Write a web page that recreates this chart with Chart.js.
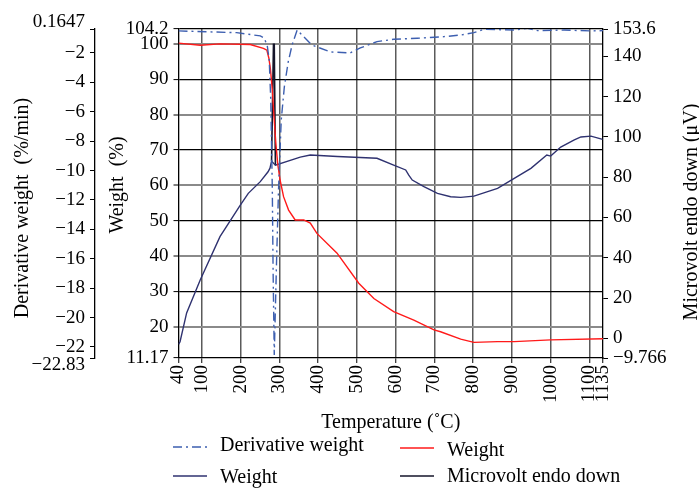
<!DOCTYPE html>
<html>
<head>
<meta charset="utf-8">
<script src="https://cdn.jsdelivr.net/npm/chart.js@4.4.1/dist/chart.umd.min.js"></script>
<style>
  html, body { margin: 0; padding: 0; background: #fff; }
</style>
</head>
<body>
<canvas id="chart" width="699" height="489"></canvas>
<script>
// TGA / DTA curves

const xTicks = [40, 100, 200, 300, 400, 500, 600, 700, 800, 900, 1000, 1100, 1135];
const weightTicks = [11.17, 20, 30, 40, 50, 60, 70, 80, 90, 100, 104.2];
const derivTicks = [-0.37, -2, -4, -6, -8, -10, -12, -14, -16, -18, -20, -22, -22.75];
const derivEndLabels = ['0.1647', '\u221222.83'];
const microvoltTicks = [-9.766, 0, 20, 40, 60, 80, 100, 120, 140, 153.6];

// Derivative weight (%/min)
const derivTemp = [40, 190, 251, 261, 269, 274, 278, 282, 284, 287, 293, 298, 305, 313, 323, 333, 346,
  384, 432, 483, 509, 552, 595, 656, 725, 768, 802, 828, 906, 940, 966, 1035, 1104, 1135];
const derivValue = [-0.5, -0.62, -0.84, -0.98, -1.52, -2.47, -5.2, -11.3, -16.8, -22.55, -16.1, -11.3, -6.56, -4.31, -2.61, -1.46, -0.44,
  -1.46, -1.93, -2.0, -1.66, -1.23, -1.07, -1.0, -0.89, -0.78, -0.62, -0.39, -0.44, -0.32, -0.48, -0.44, -0.5, -0.48];

// Weight (%) - red
const weightTemp = [40, 96, 147, 225, 259, 268, 273, 277, 282, 286, 291, 296, 302, 311, 324, 341, 363, 380, 397,
  449, 505, 544, 595, 647, 699, 716, 768, 802, 863, 906, 1000, 1135];
const weightValue = [100.2, 99.6, 100, 99.8, 98.7, 98.2, 96, 93, 87, 80, 72, 66, 61.5, 56.8, 53, 50.2, 50.2, 49.3, 46.4,
  40.8, 32.3, 28, 24.3, 21.9, 19.1, 18.6, 16.5, 15.6, 15.8, 15.8, 16.3, 16.6];

// DTA curve (µV) - navy
const dtaTemp = [40, 44, 61, 96, 147, 199, 220, 251, 271, 276, 280, 290, 354, 380, 450, 552, 595, 626, 634, 643,
  673, 708, 742, 768, 802, 863, 906, 949, 990, 1000, 1026, 1061, 1078, 1104, 1134];
const dtaValue = [-3, -1.7, 12.6, 29, 50.5, 66, 72, 77.8, 82.7, 84.5, 88, 86, 90, 91, 90.3, 89.4, 86, 83.6, 81, 78.6,
  75.3, 72, 70.3, 70, 70.6, 74.5, 79.4, 84.4, 91, 90.5, 95, 98.5, 100, 100.4, 98.8];

// endothermic spike - black
const spikeTemp = [280, 285, 287, 290];
const spikeValue = [88, 146, 146, 86];

const FONT = '"Liberation Serif", "Times New Roman", serif';

function pairs(xs, ys) {
  return xs.map((x, i) => ({ x: x, y: ys[i] }));
}
function setTicks(values) {
  return function (scale) {
    scale.ticks = values.map(v => ({ value: v }));
  };
}
function minus(v) {
  return String(v).replace('-', '\u2212');
}

const extras = {
  id: 'extras',
  afterDraw(chart) {
    const ctx = chart.ctx;
    const area = chart.chartArea;
    ctx.save();
    ctx.fillStyle = '#000';

    // end labels of the derivative axis sit just outside its ends
    ctx.font = '19px ' + FONT;
    ctx.textAlign = 'right';
    ctx.textBaseline = 'middle';
    const dx = chart.scales.yD.right - 10;
    ctx.fillText(derivEndLabels[0], dx, area.top - 7);
    ctx.fillText(derivEndLabels[1], dx, area.bottom + 7);

    // vertical axis titles, all reading bottom to top
    ctx.font = '20px ' + FONT;
    ctx.textAlign = 'center';
    const titles = [
      ['Derivative weight  (%/min)', 23, 208],
      ['Weight  (%)', 118, 185],
      ['Microvolt endo down (\u03bcV)', 692, 212]
    ];
    titles.forEach(t => {
      ctx.save();
      ctx.translate(t[1], t[2]);
      ctx.rotate(-Math.PI / 2);
      ctx.fillText(t[0], 0, 0);
      ctx.restore();
    });

    // legend, two columns
    const spots = [[173, 446, 447], [400, 451, 448], [173, 478, 476], [400, 477, 476]];
    ctx.textAlign = 'left';
    chart.data.datasets.forEach((ds, i) => {
      const p = spots[i];
      ctx.save();
      ctx.strokeStyle = ds.borderColor;
      ctx.lineWidth = ds.borderWidth;
      ctx.setLineDash(ds.borderDash || []);
      ctx.beginPath();
      ctx.moveTo(p[0], p[2]);
      ctx.lineTo(p[0] + 34, p[2]);
      ctx.stroke();
      ctx.restore();
      ctx.fillText(ds.label, p[0] + 47, p[1]);
    });
    ctx.restore();
  }
};

const tickFont = { family: FONT, size: 19 };

new Chart(document.getElementById('chart').getContext('2d'), {
  type: 'line',
  data: {
    datasets: [
      {
        label: 'Derivative weight',
        data: pairs(derivTemp, derivValue),
        yAxisID: 'yD',
        borderColor: '#3d5fb0',
        borderWidth: 1.4,
        borderDash: [9, 4, 2, 4]
      },
      {
        label: 'Weight',
        data: pairs(weightTemp, weightValue),
        yAxisID: 'yW',
        borderColor: '#ff1a1a',
        borderWidth: 1.4
      },
      {
        label: 'Weight',
        data: pairs(dtaTemp, dtaValue),
        yAxisID: 'yU',
        borderColor: '#2f3270',
        borderWidth: 1.4
      },
      {
        label: 'Microvolt endo down',
        data: pairs(spikeTemp, spikeValue),
        yAxisID: 'yU',
        borderColor: '#15152a',
        borderWidth: 1.6
      }
    ]
  },
  options: {
    responsive: false,
    animation: false,
    devicePixelRatio: 1,
    layout: { padding: { top: 29, bottom: 54, left: 0, right: 0 } },
    elements: { point: { radius: 0 }, line: { tension: 0 } },
    plugins: { legend: { display: false }, tooltip: { enabled: false } },
    scales: {
      x: {
        type: 'linear',
        min: 40,
        max: 1135,
        afterBuildTicks: setTicks(xTicks),
        afterFit: s => { s.height = 77; },
        ticks: {
          autoSkip: false,
          minRotation: 90,
          maxRotation: 90,
          padding: 2,
          color: '#000',
          font: tickFont,
          callback: v => String(v)
        },
        grid: {
          color: c => (c.tick && (c.tick.value === 40 || c.tick.value === 1135)) ? 'rgba(0,0,0,0)' : '#5a5a5a',
          lineWidth: 1.5,
          tickLength: 5,
          tickColor: '#000',
          tickWidth: 1
        },
        border: { color: '#000', width: 1.3 },
        title: {
          display: true,
          text: 'Temperature (\u02daC)',
          color: '#000',
          font: { family: FONT, size: 20 },
          padding: { top: 4, bottom: 0 }
        }
      },
      yW: {
        type: 'linear',
        position: 'left',
        weight: 0,
        min: 11.17,
        max: 104.2,
        afterBuildTicks: setTicks(weightTicks),
        afterFit: s => { s.width = 83.5; },
        ticks: { autoSkip: false, padding: 5, color: '#000', font: tickFont, callback: v => String(v) },
        grid: {
          color: c => {
            const v = c.tick ? c.tick.value : 0;
            if (v === 11.17) return 'rgba(0,0,0,0)';
            if (v === 104.2) return '#000';
            return (v % 20 === 0) ? '#8a8a8a' : '#000';
          },
          lineWidth: c => (c.tick && c.tick.value % 20 === 0) ? 2 : 1.2,
          tickLength: 5,
          tickColor: '#000',
          tickWidth: 1
        },
        border: { color: '#000', width: 1.3 }
      },
      yD: {
        type: 'linear',
        position: 'left',
        weight: 1,
        min: -22.75,
        max: -0.37,
        afterBuildTicks: setTicks(derivTicks),
        afterFit: s => { s.width = 95; },
        ticks: {
          autoSkip: false,
          padding: 5,
          color: '#000',
          font: tickFont,
          callback: v => (v === -0.37 || v === -22.75) ? '' : minus(v)
        },
        grid: { drawOnChartArea: false, tickLength: 5, color: '#000', tickWidth: 1 },
        border: { color: '#000', width: 1.3 }
      },
      yU: {
        type: 'linear',
        position: 'right',
        min: -9.766,
        max: 153.6,
        afterBuildTicks: setTicks(microvoltTicks),
        afterFit: s => { s.width = 96; },
        ticks: { autoSkip: false, padding: 5, color: '#000', font: tickFont, callback: v => minus(v) },
        grid: { drawOnChartArea: false, tickLength: 5, color: '#000', tickWidth: 1 },
        border: { color: '#000', width: 1.3 }
      }
    }
  },
  plugins: [extras]
});
</script>
</body>
</html>
